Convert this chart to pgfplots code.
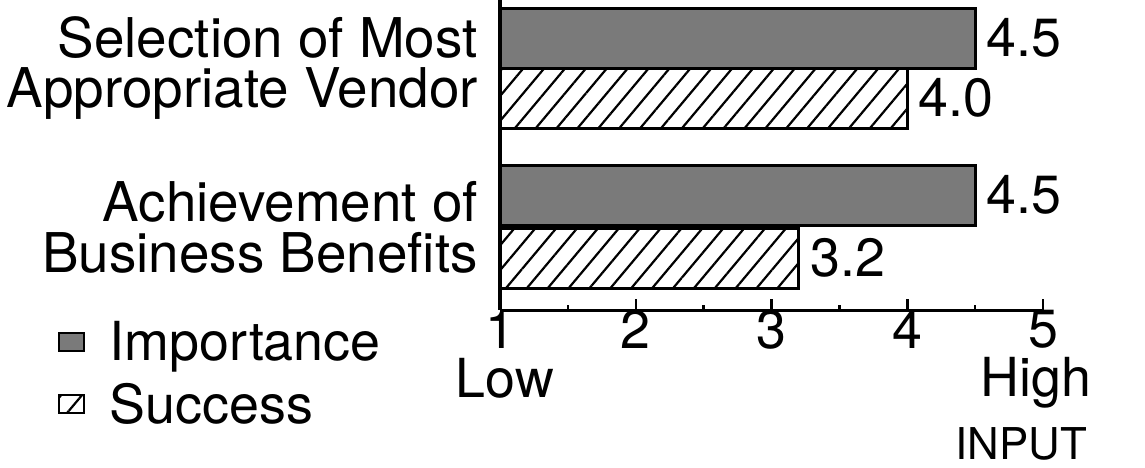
\documentclass[border=0pt]{standalone}
\usepackage{fontspec}
\setmainfont{TeX Gyre Heros}
\usepackage{pgfplots}
\usepackage{pgfplotstable}
\pgfplotsset{compat=1.18}
\usetikzlibrary{patterns.meta}
\pgfplotstableread{
y v
38 4.5
195 4.5
}\importance
\pgfplotstableread{
y v
98 4.0
258 3.2
}\success
\newcommand\bigf{\fontsize{54}{49}\selectfont}
\newcommand\catf{\fontsize{55}{51}\selectfont}
\pgfplotsset{boxlegend/.style={legend image code/.code={\draw[##1, line width=2bp] (0bp,-9bp) rectangle (25bp,9bp);}}}
\begin{document}
\begin{tikzpicture}
\useasboundingbox (0,0) rectangle (1145bp,468bp);
\begin{axis}[
 at={(500bp,158bp)}, anchor=south west,
 scale only axis, width=543bp, height=310bp,
 xmin=0, xmax=4, ymin=0, ymax=310, y dir=reverse,
 axis lines*=left, axis line style={line width=3bp, -},
 xtick={0,1,2,3,4}, xticklabels={{1\\\kern10bp Low},2,3,4,{5\\High\kern14bp}},
 xticklabel style={align=center, font=\bigf, inner sep=0bp},
 minor x tick num=1,
 tick align=inside, major tick length=11bp, minor tick length=5bp,
 x tick style={line width=2.5bp, black},
 ytick={68,227}, yticklabels={{Selection of Most\\Appropriate Vendor},{Achievement of\\Business Benefits}},
 yticklabel style={align=right, font=\catf, inner sep=0pt, xshift=-11bp},
 y tick style={draw=none},
 xbar, bar width=60, bar shift=0,
 nodes near coords, point meta=explicit symbolic,
 nodes near coords style={font=\bigf, anchor=west, inner xsep=10bp},
 legend style={at={(-0.815,-0.03)}, anchor=north west, draw=none, fill=none, font=\bigf, row sep=17bp, inner sep=0pt,
   /tikz/every odd column/.append style={column sep=23bp}},
 legend cell align=left,
 boxlegend,
]
\addplot[draw=black, line width=3bp, fill=black!52]
  table[x expr=\thisrow{v}-1, y=y, meta=v] {\importance};
\addlegendentry{Importance}
\addplot[draw=black, line width=3bp, pattern={Lines[angle=50,distance=16bp,line width=2.2bp]}]
  table[x expr=\thisrow{v}-1, y=y, meta=v] {\success};
\addlegendentry{Success}
\end{axis}
\node[anchor=base east, font=\fontsize{44}{48}\selectfont, inner sep=0pt] at (1087bp,9bp) {INPUT};
\end{tikzpicture}
\end{document}
